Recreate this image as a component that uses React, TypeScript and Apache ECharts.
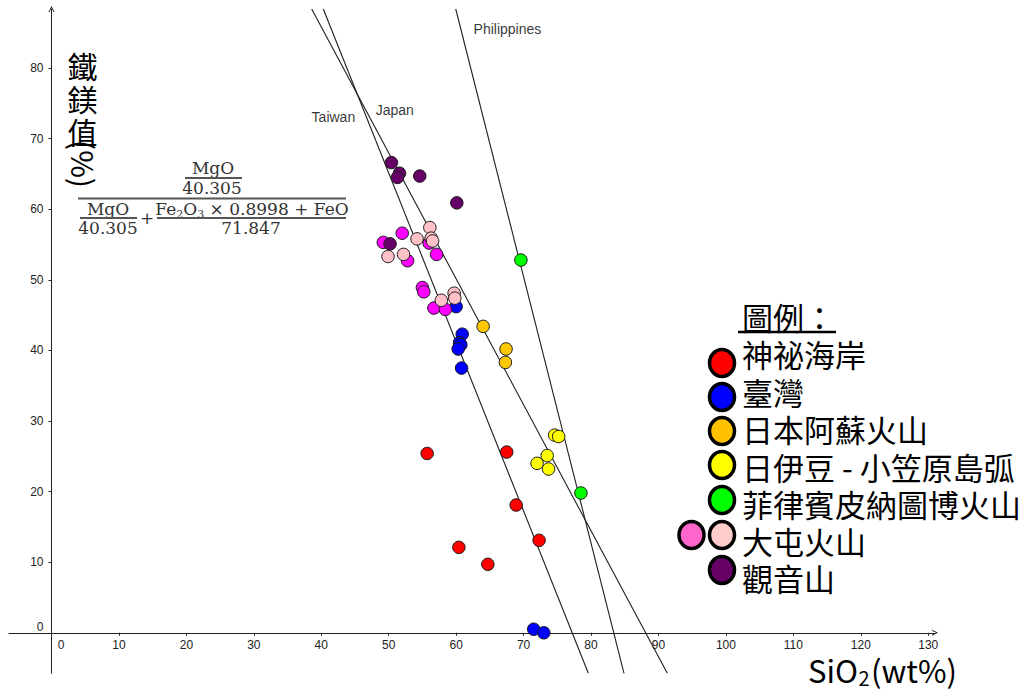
import React, { useEffect, useRef } from 'react';
import * as echarts from 'echarts';

// ---------- data ----------
const xTicks = [0, 10, 20, 30, 40, 50, 60, 70, 80, 90, 100, 110, 120, 130];
const yTicks = [0, 10, 20, 30, 40, 50, 60, 70, 80];

const legendTitle = '圖例：';
const legendNames = ['神祕海岸', '臺灣', '日本阿蘇火山', '日伊豆 - 小笠原島弧', '菲律賓皮納圖博火山', '大屯火山', '觀音山'];
const legendColors = ['#ff0000', '#0000ff', '#ffc000', '#ffff00', '#00ff00', '#ffcccc', '#660066'];
const legendExtraColor = '#ff66cc';

const mysteryCoast = [[55.7, 25.4], [67.5, 25.6], [68.9, 18.1], [72.3, 13.1], [60.4, 12.1], [64.7, 9.7]];
const taiwan = [[60.0, 46.2], [60.9, 42.3], [60.5, 41.1], [60.7, 40.8], [60.3, 40.2], [60.8, 37.5], [71.5, 0.5], [73.0, 0.0]];
const asoJapan = [[64.0, 43.4], [67.4, 40.2], [67.3, 38.3]];
const izuBonin = [[74.6, 28.0], [75.2, 27.8], [73.5, 25.1], [72.0, 24.0], [73.7, 23.2]];
const pinatubo = [[69.6, 52.8], [78.5, 19.8]];
const tatunMagenta = [[52.0, 56.6], [49.2, 55.3], [56.0, 55.2], [57.1, 53.6], [52.8, 52.7], [55.0, 48.9], [55.2, 48.3], [56.7, 46.0], [58.4, 45.8]];
const tatunPink = [[56.1, 57.4], [54.2, 55.8], [56.3, 55.9], [56.5, 55.5], [49.9, 53.3], [52.2, 53.6], [57.8, 47.1], [59.7, 48.1], [59.8, 47.4]];
const guanyin = [[50.4, 66.6], [51.6, 65.1], [51.3, 64.5], [54.6, 64.7], [60.1, 60.9], [50.2, 55.1]];

const lineNames = ['Taiwan', 'Japan', 'Philippines'];
const taiwanLine = [[40.3, 88.36], [79.6, -5.74]];
const japanLine = [[38.58, 88.36], [91.31, -5.74]];
const philippinesLine = [[59.94, 88.36], [84.89, -5.74]];
const lineLabelAnchors = [[41.8, 73.1], [50.9, 74.0], [67.6, 85.5]];

const scatterGroups = [
  { name: '神祕海岸', color: '#ff0000', data: mysteryCoast },
  { name: '臺灣', color: '#0000ff', data: taiwan },
  { name: '日本阿蘇火山', color: '#ffc800', data: asoJapan },
  { name: '日伊豆 - 小笠原島弧', color: '#ffff00', data: izuBonin },
  { name: '菲律賓皮納圖博火山', color: '#00ff00', data: pinatubo },
  { name: '大屯火山', color: '#ff00ff', data: tatunMagenta },
  { name: '大屯火山 ', color: '#ffc0c8', data: tatunPink },
  { name: '觀音山', color: '#660066', data: guanyin },
];

const X_MIN = -6.3, X_MAX = 131;
const Y_MIN = -5.74, Y_MAX = 88.36;

// grid geometry (pixels)
const G_LEFT = 9, G_RIGHT = 100, G_TOP = 9, G_BOTTOM = 16.7;
const G_W = 1035 - G_LEFT - G_RIGHT;
const G_H = 690 - G_TOP - G_BOTTOM;
// offsets moving the axes onto the zero lines
const Y_AXIS_OFFSET = -((0 - X_MIN) / (X_MAX - X_MIN)) * G_W;
const X_AXIS_OFFSET = -((0 - Y_MIN) / (Y_MAX - Y_MIN)) * G_H;

const arrowPath = 'path://M0,10 L5,0 L10,10 L8.4,10 L5,3.2 L1.6,10 Z';
const CJK = '"Noto Sans CJK TC", "Noto Sans", sans-serif';
const SERIF = '"DejaVu Serif", serif';
const SANS = '"Liberation Sans", Arial, sans-serif';

export default function App() {
  const ref = useRef<HTMLDivElement>(null);

  useEffect(() => {
    if (!ref.current) return;
    const chart = echarts.init(ref.current, null, { renderer: 'svg' });

    const formulaColor = '#333';
    const barStyle = { stroke: '#555', lineWidth: 1.8 };

    const legendGraphics: any[] = [];
    const textYs = [353, 391, 428, 466, 503, 540, 577];
    const circleYs = [363, 397, 431, 465, 500, 535, 570];
    legendNames.forEach((n, i) => {
      legendGraphics.push({
        type: 'ellipse',
        shape: { cx: 722, cy: circleYs[i], rx: 12.5, ry: 13.5 },
        style: { fill: legendColors[i], stroke: '#000', lineWidth: 3.5 },
        z: 100,
      });
      legendGraphics.push({
        type: 'text',
        x: 742,
        y: textYs[i],
        style: { text: n, font: `31px ${CJK}`, fill: '#000', verticalAlign: 'middle', align: 'left' },
        z: 100,
      });
    });
    legendGraphics.push({
      type: 'ellipse',
      shape: { cx: 691.5, cy: 535, rx: 12.5, ry: 13.5 },
      style: { fill: legendExtraColor, stroke: '#000', lineWidth: 3.5 },
      z: 100,
    });
    legendGraphics.push({
      type: 'text',
      x: 742,
      y: 316,
      style: { text: legendTitle, font: `31px ${CJK}`, fill: '#000', verticalAlign: 'middle', align: 'left' },
      z: 100,
    });
    legendGraphics.push({
      type: 'line',
      shape: { x1: 738, y1: 332, x2: 836, y2: 332 },
      style: { stroke: '#000', lineWidth: 2.5 },
      z: 100,
    });

    const formula: any[] = [
      { type: 'text', x: 213, y: 168, style: { text: 'MgO', font: `17px ${SERIF}`, fill: formulaColor, align: 'center', verticalAlign: 'middle' } },
      { type: 'line', shape: { x1: 185, y1: 178, x2: 242, y2: 178 }, style: barStyle },
      { type: 'text', x: 212, y: 188, style: { text: '40.305', font: `17px ${SERIF}`, fill: formulaColor, align: 'center', verticalAlign: 'middle' } },
      { type: 'line', shape: { x1: 78, y1: 198.5, x2: 346, y2: 198.5 }, style: barStyle },
      { type: 'text', x: 108, y: 209, style: { text: 'MgO', font: `17px ${SERIF}`, fill: formulaColor, align: 'center', verticalAlign: 'middle' } },
      { type: 'line', shape: { x1: 80, y1: 218, x2: 137, y2: 218 }, style: barStyle },
      { type: 'text', x: 108, y: 228, style: { text: '40.305', font: `17px ${SERIF}`, fill: formulaColor, align: 'center', verticalAlign: 'middle' } },
      { type: 'text', x: 147, y: 218, style: { text: '+', font: `17px ${SERIF}`, fill: formulaColor, align: 'center', verticalAlign: 'middle' } },
      {
        type: 'text', x: 252, y: 209,
        style: {
          text: '{n|Fe}{s|2}{n|O}{s|3}{n| × 0.8998 + FeO}',
          align: 'center', verticalAlign: 'middle',
          rich: {
            n: { fontSize: 17, fontFamily: SERIF, fill: formulaColor, lineHeight: 22 },
            s: { fontSize: 11, fontFamily: SERIF, fill: formulaColor, verticalAlign: 'bottom' },
          },
        },
      },
      { type: 'line', shape: { x1: 157, y1: 218, x2: 346, y2: 218 }, style: barStyle },
      { type: 'text', x: 251, y: 228, style: { text: '71.847', font: `17px ${SERIF}`, fill: formulaColor, align: 'center', verticalAlign: 'middle' } },
    ];

    const titles: any[] = [
      {
        type: 'text', x: 82.5, y: 48,
        style: { text: '鐵\n鎂\n值', font: `30px ${CJK}`, lineHeight: 33, fill: '#000', align: 'center', verticalAlign: 'top' },
      },
      {
        type: 'text', x: 84, y: 164, rotation: -Math.PI / 2,
        style: { text: '(%)', font: `30px ${CJK}`, fill: '#000', align: 'center', verticalAlign: 'middle' },
      },
      {
        type: 'group',
        children: [
          { type: 'text', x: 808, y: 669, style: { text: 'SiO', font: `31px ${CJK}`, fill: '#000', align: 'left', verticalAlign: 'middle' } },
          { type: 'text', x: 858.5, y: 677, style: { text: '2', font: `20px ${CJK}`, fill: '#000', align: 'left', verticalAlign: 'middle' } },
          { type: 'text', x: 871, y: 669, style: { text: '(wt%)', font: `31px ${CJK}`, fill: '#000', align: 'left', verticalAlign: 'middle' } },
        ],
      },
    ];

    const lineSeries = [taiwanLine, japanLine, philippinesLine].map((d, i) => ({
      type: 'line',
      name: lineNames[i],
      data: d,
      symbol: 'none',
      silent: true,
      clip: true,
      lineStyle: { color: '#1e1e1e', width: 1.1 },
      z: 1,
    }));

    const scatterSeries = scatterGroups.map((g, i) => ({
      type: 'scatter',
      name: g.name,
      data: g.data,
      symbol: 'circle',
      symbolSize: 12.5,
      itemStyle: { color: g.color, borderColor: '#1a1a1a', borderWidth: 1, opacity: 1 },
      z: 3 + i,
    }));

    const labelSeries = {
      type: 'scatter',
      name: 'line labels',
      data: lineLabelAnchors.map((p, i) => ({ value: p, name: lineNames[i] })),
      symbolSize: 0,
      silent: true,
      label: {
        show: true,
        position: 'inside',
        formatter: (p: any) => p.name,
        fontFamily: SANS,
        fontSize: 14,
        color: '#000',
      },
      z: 2,
    };

    chart.setOption({
      animation: false,
      backgroundColor: '#ffffff',
      grid: {
        left: G_LEFT, right: G_RIGHT, top: G_TOP, bottom: G_BOTTOM,
        containLabel: false, outerBoundsMode: 'none',
      },
      xAxis: {
        type: 'value',
        min: X_MIN,
        max: X_MAX,
        position: 'bottom',
        offset: X_AXIS_OFFSET,
        axisLine: {
          show: true,
          onZero: false,
          symbol: ['none', arrowPath],
          symbolSize: [9, 6],
          lineStyle: { color: '#222', width: 1 },
        },
        axisTick: { show: true, length: 3, customValues: xTicks.filter((v) => v !== 0), lineStyle: { color: '#222' } },
        axisLabel: {
          customValues: xTicks,
          fontFamily: SANS,
          fontSize: 12,
          color: '#222',
          margin: 6,
          hideOverlap: false,
          formatter: (v: number) => (v === 0 ? '{z|0}' : String(v)),
          rich: { z: { padding: [0, 0, 0, 19], fontFamily: SANS, fontSize: 12, color: '#222' } },
        },
        splitLine: { show: false },
      },
      yAxis: {
        type: 'value',
        min: Y_MIN,
        max: Y_MAX,
        position: 'left',
        offset: Y_AXIS_OFFSET,
        axisLine: {
          show: true,
          onZero: false,
          symbol: ['none', arrowPath],
          symbolSize: [9, 6],
          lineStyle: { color: '#222', width: 1 },
        },
        axisTick: { show: true, length: 3, customValues: yTicks.filter((v) => v !== 0), lineStyle: { color: '#222' } },
        axisLabel: {
          customValues: yTicks,
          fontFamily: SANS,
          fontSize: 12,
          color: '#222',
          margin: 8,
          hideOverlap: false,
          formatter: (v: number) => (v === 0 ? '{z|0}' : String(v)),
          rich: { z: { padding: [0, 0, 12, 0], fontFamily: SANS, fontSize: 12, color: '#222' } },
        },
        splitLine: { show: false },
      },
      graphic: [...formula, ...titles, ...legendGraphics],
      series: [...lineSeries, labelSeries, ...scatterSeries],
    });

    return () => chart.dispose();
  }, []);

  return (
    <div
      ref={ref}
      style={{ position: 'absolute', left: 0, top: 0, width: 1035, height: 690, background: '#fff' }}
    />
  );
}
